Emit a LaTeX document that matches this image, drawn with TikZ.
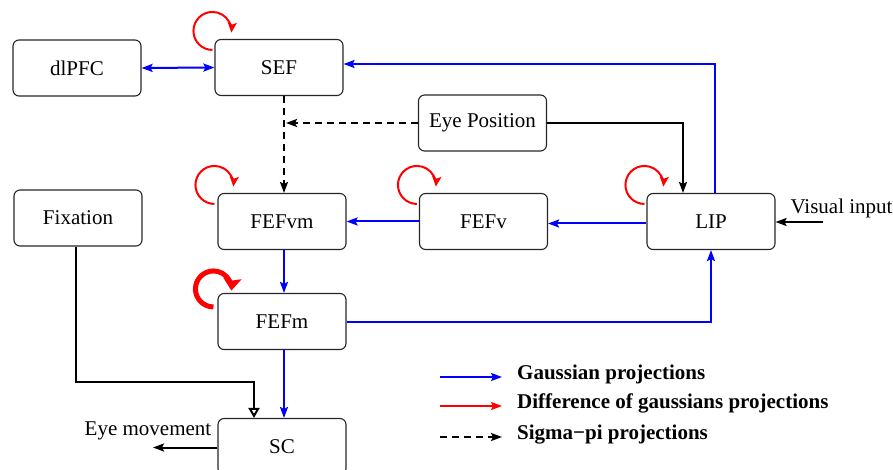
\documentclass[tikz,border=0pt]{standalone}
\usepackage{fontspec}
\setmainfont{Liberation Serif}
\usetikzlibrary{arrows.meta,calc}
\begin{document}
\begin{tikzpicture}[x=1pt,y=1pt,
  box/.style={draw=black!85, line width=1.1pt, rounded corners=6pt, minimum width=128pt, minimum height=56pt, inner sep=0pt, font=\rmfamily\fontsize{21}{25}\selectfont},
  lbl/.style={inner sep=0pt, font=\rmfamily\fontsize{21}{25}\selectfont},
  leg/.style={inner sep=0pt, anchor=west, font=\rmfamily\fontsize{21}{25}\selectfont\bfseries},
  gauss/.style={draw=blue, line width=2pt, -{Stealth[length=11pt,width=8pt,inset=2pt]}},
  gaussboth/.style={draw=blue, line width=2pt, {Stealth[length=11pt,width=8pt,inset=2pt]}-{Stealth[length=11pt,width=8pt,inset=2pt]}},
  plain/.style={draw=black, line width=2pt, -{Stealth[length=11pt,width=8pt,inset=2pt]}},
  sigma/.style={draw=black, line width=2pt, dash pattern=on 7pt off 5pt, -{Stealth[length=11pt,width=8pt,inset=2pt]}},
  fixarrow/.style={draw=black, line width=2pt, -{Triangle[open,length=10pt,width=11pt]}},
  dog/.style={draw=red, line width=2pt, -{Stealth[length=10pt,width=9pt,inset=2pt]}},
  dogthick/.style={draw=red, line width=5pt, -{Stealth[length=12pt,width=18pt,inset=2pt]}},
  legdog/.style={draw=red, line width=2pt, -{Stealth[length=11pt,width=8pt,inset=2pt]}}
]
\useasboundingbox (0,0) rectangle (893,-470);

% nodes
\node[box] (dlPFC) at (77,-68) {dlPFC};
\node[box] (SEF) at (279,-67.5) {SEF};
\node[box] (EP) at (482.5,-123) {Eye Position};
\node[box] (Fix) at (78,-218) {Fixation};
\node[box] (FEFvm) at (282,-221.5) {FEFvm};
\node[box] (FEFv) at (483.5,-221.5) {FEFv};
\node[box] (LIP) at (711,-221.5) {LIP};
\node[box] (FEFm) at (282,-321.5) {FEFm};
\node[box] (SC) at (282,-446.5) {SC};

% helper coordinates
\coordinate (sx) at (284,0);
\coordinate (fx) at (254,-382);
\coordinate (em) at (153,-447.5);
\coordinate (vi) at (823,-222);

% connectors
\draw[gaussboth] (dlPFC.east) -- (SEF.west);
\draw[gauss] ([xshift=4pt]LIP.north) |- ([yshift=3.5pt]SEF.east);
\draw[sigma] (SEF.south -| sx) -- (FEFvm.north -| sx);
\draw[sigma] (EP.west) -- ([xshift=2pt]EP.west -| sx);
\draw[plain] (EP.east) -| ([xshift=-28pt]LIP.north);
\draw[gauss] ([yshift=-2pt]LIP.west) -- ([yshift=-2pt]FEFv.east);
\draw[gauss] (FEFv.west) -- (FEFvm.east);
\draw[gauss] (FEFvm.south -| sx) -- (FEFm.north -| sx);
\draw[gauss] (FEFm.east) -| (LIP.south);
\draw[gauss] (FEFm.south -| sx) -- (SC.north -| sx);
\draw[fixarrow] ([xshift=-2pt]Fix.south) |- (fx) -- (fx |- SC.north);
\draw[plain] (SC.west |- em) -- (em);
\draw[plain] (vi) -- (LIP.east |- vi);

% self loops
\draw[dog] ($(SEF.north west)+(-2,-11)$) arc[start angle=270, end angle=-5, radius=19];
\draw[dog] ($(FEFvm.north west)+(-3,-11)$) arc[start angle=270, end angle=-5, radius=19];
\draw[dog] ($(FEFv.north west)+(-2,-11)$) arc[start angle=270, end angle=-5, radius=19];
\draw[dog] ($(LIP.north west)+(-2,-11)$) arc[start angle=270, end angle=-5, radius=19];
\draw[dogthick] ($(FEFm.north west)+(-4,-14)$) arc[start angle=270, end angle=-5, radius=18];

% labels
\node[lbl] (emlbl) at (148,-431) {Eye movement};
\node[lbl] (vilbl) at (841.5,-208) {Visual input};

% legend
\coordinate (g1) at (440,-377); \coordinate (g2) at (502,-377);
\coordinate (r1) at (440,-406); \coordinate (r2) at (502,-406);
\coordinate (s1) at (440,-437); \coordinate (s2) at (502,-437);
\draw[gauss] (g1) -- (g2);
\draw[legdog] (r1) -- (r2);
\draw[sigma] (s1) -- (s2);
\node[leg] (lg) at (517,-374) {Gaussian projections};
\node[leg] (lr) at (517,-403) {Difference of gaussians projections};
\node[leg] (ls) at (517,-435) {Sigma−pi projections};
\end{tikzpicture}
\end{document}
